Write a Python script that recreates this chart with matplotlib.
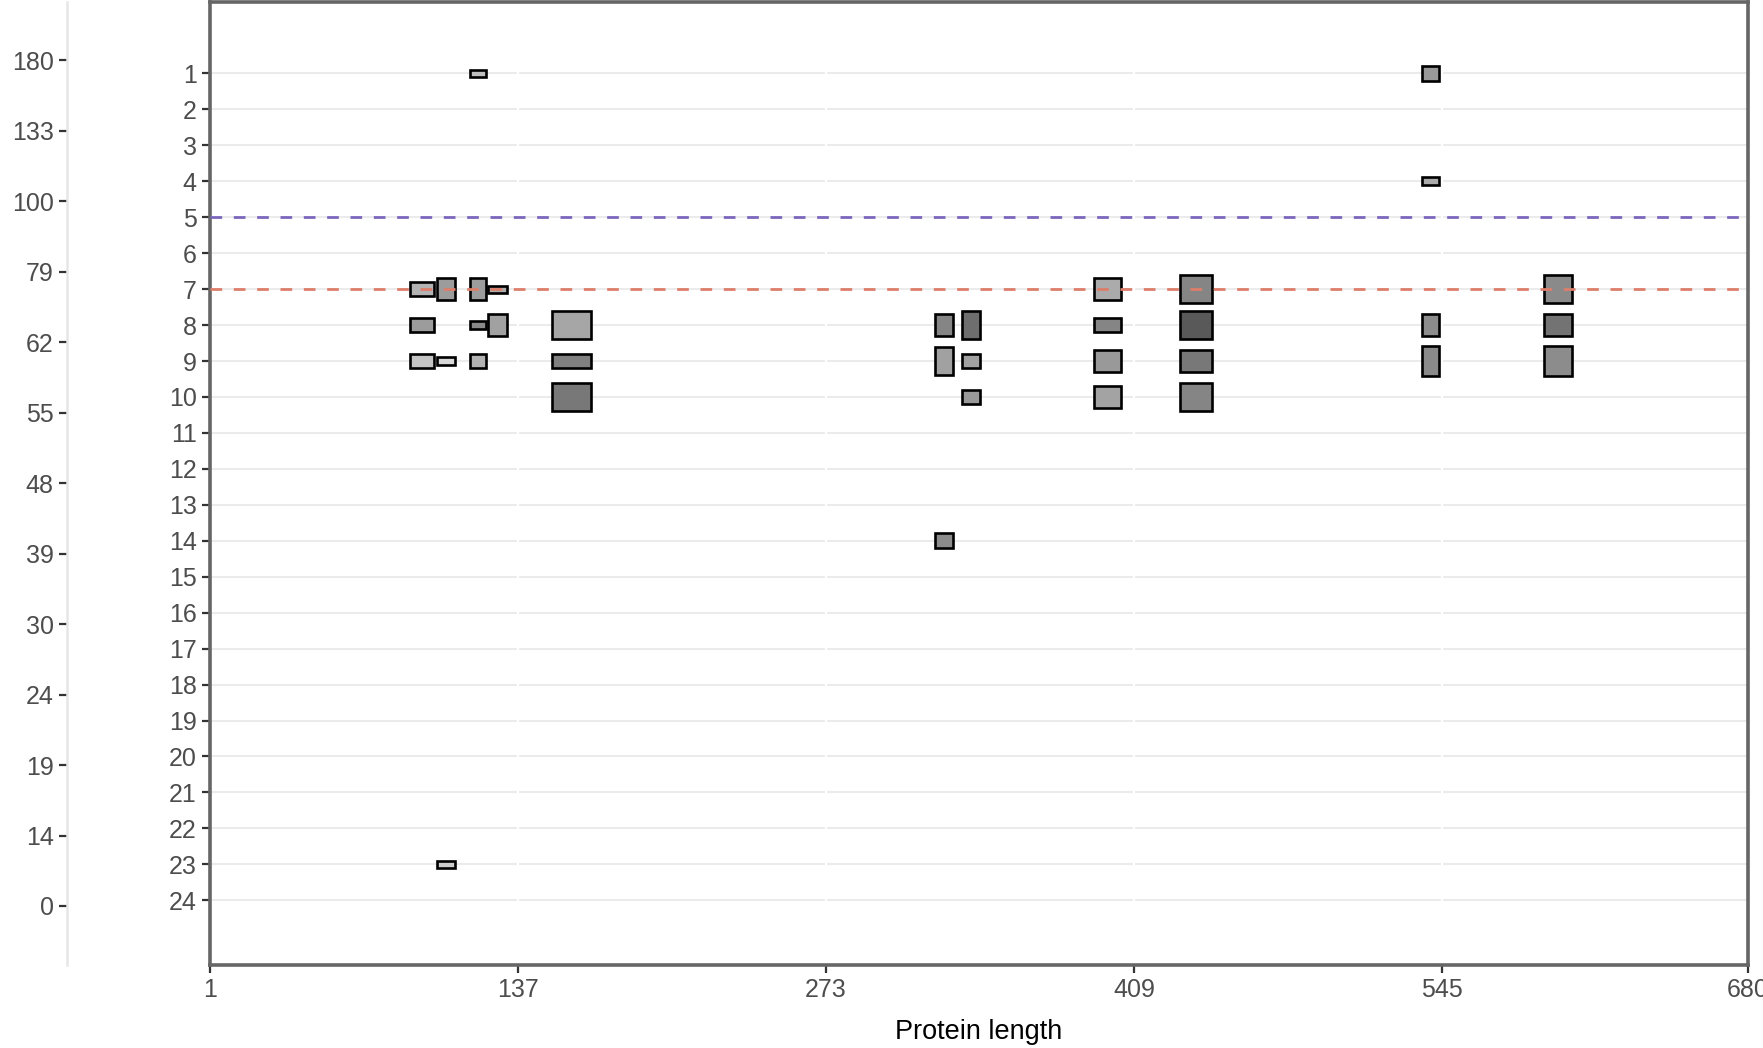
import matplotlib
matplotlib.use("Agg")
import matplotlib.pyplot as plt
import numpy as np

plt.rcParams['font.family'] = ['Liberation Sans', 'DejaVu Sans']

# ---- data ----
positions = [94.6, 105.1, 119.5, 127.9,
             94.6, 119.5, 127.9, 160.5,
             94.6, 105.1, 119.5, 160.5,
             160.5, 119.5, 105.1,
             397.1, 436.1,
             325.1, 337.1, 397.1, 436.1,
             325.1, 337.1, 397.1, 436.1,
             337.1, 397.1, 436.1,
             325.1,
             539.7, 539.7, 596.2,
             539.7, 596.2, 539.7, 596.2]
rows = [7, 7, 7, 7,
        8, 8, 8, 8,
        9, 9, 9, 9,
        10, 1, 23,
        7, 7,
        8, 8, 8, 8,
        9, 9, 9, 9,
        10, 10, 10,
        14,
        1, 4, 7,
        8, 8, 9, 9]
widths = [10.9, 8.2, 7.1, 8.2,
          10.9, 7.1, 8.2, 17.1,
          10.9, 8.2, 7.1, 17.1,
          17.1, 7.1, 8.2,
          12.1, 14.1,
          8.2, 8.1, 12.1, 14.1,
          8.2, 8.1, 12.1, 14.1,
          8.1, 12.1, 14.1,
          8.2,
          7.4, 7.4, 12.4,
          7.4, 12.4, 7.4, 12.4]
heights = [0.38, 0.62, 0.62, 0.2,
           0.38, 0.2, 0.62, 0.8,
           0.4, 0.2, 0.4, 0.4,
           0.8, 0.21, 0.2,
           0.62, 0.8,
           0.62, 0.8, 0.38, 0.8,
           0.8, 0.4, 0.62, 0.62,
           0.4, 0.62, 0.8,
           0.42,
           0.43, 0.21, 0.8,
           0.61, 0.61, 0.82, 0.82]
shades = [0.70, 0.61, 0.61, 0.68,
          0.61, 0.54, 0.63, 0.65,
          0.77, 0.85, 0.70, 0.50,
          0.47, 0.75, 0.80,
          0.67, 0.52,
          0.52, 0.43, 0.52, 0.35,
          0.63, 0.63, 0.60, 0.47,
          0.60, 0.64, 0.52,
          0.55,
          0.60, 0.67, 0.54,
          0.55, 0.45, 0.54, 0.55]

y_ticks = list(range(1, 25))
x_ticks = [1, 137, 273, 409, 545, 680]
left_labels = ['180', '133', '100', '79', '62', '55', '48', '39', '30', '24', '19', '14', '0']
hline_blue = 5
hline_red = 7

# ---- figure ----
W, H = 1763, 1048
fig = plt.figure(figsize=(W / 100, H / 100), dpi=100)

L, R, T, B = 210, 1748, 1.5, 965
ax = fig.add_axes([L / W, 1 - B / H, (R - L) / W, (B - T) / H])
ax.set_xlim(1, 680)
ax.set_ylim(25.8, -1.0)

# gridlines: horizontal grey, vertical white breaking them
for yv in y_ticks:
    ax.axhline(yv, color='#EBEBEB', lw=1.5, zorder=0.5)
for xv in x_ticks[1:-1]:
    ax.axvline(xv, color='white', lw=1.6, zorder=0.6)

pos = np.array(positions)
rw = np.array(rows, dtype=float)
hh = np.array(heights)
cols = [(s, s, s) for s in shades]
ax.bar(pos, hh, width=widths, bottom=rw - hh / 2, color=cols,
       edgecolor='black', linewidth=1.9, zorder=2)

ax.axhline(hline_blue, color='#7B67BD', lw=2.0, dashes=(4.2, 4.2), zorder=3)
ax.axhline(hline_red, color='#DD7E6B', lw=2.0, dashes=(4.2, 4.2), zorder=3)

ax.set_yticks(y_ticks)
ax.set_yticklabels([str(v) for v in y_ticks])
ax.set_xticks(x_ticks)
ax.set_xticklabels([str(v) for v in x_ticks])
ax.tick_params(axis='both', length=5.5, width=1.6, color='#333333',
               labelsize=18, labelcolor='#4D4D4D', pad=4)
for sp in ax.spines.values():
    sp.set_color('#666666')
    sp.set_linewidth(2.6)
ax.set_xlabel('Protein length', fontsize=19.5, color='black', labelpad=12)

# left secondary axis
ax2 = fig.add_axes([67 / W, 1 - B / H, 0.0005, (B - T) / H])
ax2.set_ylim(12.837, -0.831)
ax2.set_yticks(range(len(left_labels)))
ax2.set_yticklabels(left_labels)
ax2.set_xticks([])
for k in ['top', 'right', 'bottom']:
    ax2.spines[k].set_visible(False)
ax2.spines['left'].set_color('#E6E6E6')
ax2.spines['left'].set_linewidth(1.8)
ax2.patch.set_visible(False)
ax2.tick_params(axis='y', length=5.5, width=1.6, color='#333333',
                labelsize=18, labelcolor='#4D4D4D', pad=4)

fig.savefig('out.png', dpi=100)
